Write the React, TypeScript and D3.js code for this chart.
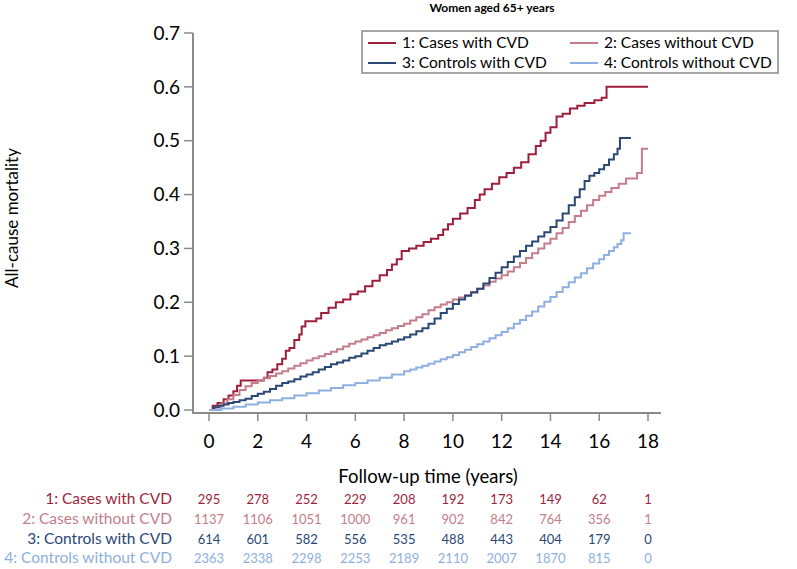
import React from "react";
import * as d3 from "d3";

const title = "Women aged 65+ years";
const yTicks = [0, 0.1, 0.2, 0.3, 0.4, 0.5, 0.6, 0.7];
const xTicks = [0, 2, 4, 6, 8, 10, 12, 14, 16, 18];
const groupNames = ["1: Cases with CVD", "2: Cases without CVD", "3: Controls with CVD", "4: Controls without CVD"];
const groupColors = ["#9e1f3c", "#c47d8a", "#2a4876", "#8db0e0"];

// [time, cumulative mortality]
const s1: [number, number][] = [
  [0, 0], [0.15, 0.008], [0.35, 0.013], [0.6, 0.02], [0.8, 0.027], [1.0, 0.035], [1.15, 0.045], [1.3, 0.055],
  [2.25, 0.06], [2.4, 0.07], [2.6, 0.075], [2.8, 0.085], [3.0, 0.095], [3.15, 0.11], [3.3, 0.115], [3.5, 0.13],
  [3.7, 0.14], [3.8, 0.155], [3.95, 0.165], [4.4, 0.17], [4.6, 0.18], [4.9, 0.19], [5.2, 0.2], [5.5, 0.205],
  [5.8, 0.215], [6.1, 0.22], [6.4, 0.23], [6.7, 0.24], [7.0, 0.25], [7.3, 0.26], [7.5, 0.27], [7.7, 0.28],
  [7.9, 0.295], [8.2, 0.3], [8.5, 0.305], [8.8, 0.312], [9.1, 0.318], [9.4, 0.325], [9.6, 0.335], [9.8, 0.345],
  [10.0, 0.355], [10.3, 0.365], [10.6, 0.375], [10.9, 0.39], [11.1, 0.4], [11.3, 0.41], [11.6, 0.42], [11.9, 0.432],
  [12.2, 0.44], [12.5, 0.45], [12.8, 0.46], [13.1, 0.475], [13.4, 0.49], [13.6, 0.5], [13.8, 0.515], [14.0, 0.525],
  [14.25, 0.545], [14.5, 0.55], [14.8, 0.56], [15.1, 0.565], [15.4, 0.57], [15.8, 0.575], [16.1, 0.58], [16.3, 0.6],
  [18.0, 0.6],
];
const s2: [number, number][] = [
  [0, 0], [0.25, 0.005], [0.5, 0.012], [0.75, 0.02], [1.0, 0.028], [1.25, 0.037], [1.5, 0.044], [1.75, 0.05],
  [2.0, 0.055], [2.25, 0.059], [2.5, 0.063], [2.75, 0.068], [3.0, 0.072], [3.25, 0.077], [3.5, 0.082], [3.75, 0.087],
  [4.0, 0.092], [4.25, 0.096], [4.5, 0.1], [4.75, 0.104], [5.0, 0.108], [5.25, 0.113], [5.5, 0.118], [5.75, 0.123],
  [6.0, 0.127], [6.25, 0.131], [6.5, 0.135], [6.75, 0.139], [7.0, 0.143], [7.25, 0.148], [7.5, 0.152], [7.75, 0.156],
  [8.0, 0.16], [8.25, 0.166], [8.5, 0.172], [8.75, 0.178], [9.0, 0.185], [9.25, 0.191], [9.5, 0.196], [9.75, 0.2],
  [10.0, 0.205], [10.25, 0.209], [10.5, 0.213], [10.75, 0.219], [11.0, 0.225], [11.25, 0.231], [11.5, 0.238], [11.75, 0.244],
  [12.0, 0.25], [12.25, 0.257], [12.5, 0.265], [12.75, 0.273], [13.0, 0.282], [13.25, 0.291], [13.5, 0.3], [13.75, 0.309],
  [14.0, 0.318], [14.25, 0.328], [14.5, 0.338], [14.75, 0.349], [15.0, 0.36], [15.25, 0.37], [15.5, 0.38], [15.75, 0.39],
  [16.0, 0.398], [16.25, 0.405], [16.5, 0.412], [16.8, 0.42], [17.1, 0.43], [17.55, 0.44], [17.75, 0.485], [18.0, 0.485],
];
const s3: [number, number][] = [
  [0, 0], [0.2, 0.005], [0.4, 0.008], [0.6, 0.01], [0.8, 0.013], [1.0, 0.015], [1.25, 0.018], [1.5, 0.021],
  [1.75, 0.026], [2.0, 0.03], [2.25, 0.034], [2.5, 0.039], [2.75, 0.045], [3.0, 0.05], [3.25, 0.053], [3.5, 0.057],
  [3.75, 0.062], [4.0, 0.066], [4.25, 0.07], [4.5, 0.075], [4.75, 0.08], [5.0, 0.085], [5.25, 0.088], [5.5, 0.092],
  [5.75, 0.097], [6.0, 0.1], [6.25, 0.105], [6.5, 0.11], [6.75, 0.115], [7.0, 0.12], [7.25, 0.123], [7.5, 0.127],
  [7.75, 0.131], [8.0, 0.135], [8.25, 0.14], [8.5, 0.146], [8.75, 0.152], [9.0, 0.16], [9.25, 0.17], [9.5, 0.18],
  [9.75, 0.188], [10.0, 0.197], [10.25, 0.205], [10.5, 0.212], [10.75, 0.218], [11.0, 0.225], [11.25, 0.235], [11.5, 0.245],
  [11.75, 0.255], [12.0, 0.265], [12.25, 0.275], [12.5, 0.285], [12.75, 0.295], [13.0, 0.305], [13.25, 0.313], [13.5, 0.322],
  [13.75, 0.33], [14.0, 0.34], [14.25, 0.352], [14.5, 0.365], [14.75, 0.38], [15.0, 0.395], [15.2, 0.41], [15.4, 0.425],
  [15.6, 0.435], [15.8, 0.44], [16.0, 0.447], [16.2, 0.455], [16.4, 0.465], [16.6, 0.475], [16.75, 0.485], [16.85, 0.505],
  [17.3, 0.505],
];
const s4: [number, number][] = [
  [0, 0], [0.5, 0.003], [1.0, 0.006], [1.5, 0.01], [2.0, 0.014], [2.5, 0.018], [3.0, 0.022], [3.5, 0.027],
  [4.0, 0.031], [4.5, 0.036], [5.0, 0.041], [5.5, 0.046], [6.0, 0.05], [6.5, 0.055], [7.0, 0.06], [7.5, 0.066],
  [8.0, 0.072], [8.25, 0.075], [8.5, 0.079], [8.75, 0.082], [9.0, 0.086], [9.25, 0.09], [9.5, 0.094], [9.75, 0.098],
  [10.0, 0.102], [10.25, 0.107], [10.5, 0.112], [10.75, 0.117], [11.0, 0.122], [11.25, 0.127], [11.5, 0.133], [11.75, 0.139],
  [12.0, 0.145], [12.25, 0.152], [12.5, 0.16], [12.75, 0.167], [13.0, 0.175], [13.25, 0.183], [13.5, 0.192], [13.75, 0.201],
  [14.0, 0.21], [14.25, 0.219], [14.5, 0.228], [14.75, 0.237], [15.0, 0.246], [15.25, 0.254], [15.5, 0.263], [15.75, 0.272],
  [16.0, 0.28], [16.2, 0.288], [16.4, 0.295], [16.6, 0.302], [16.75, 0.308], [16.9, 0.315], [17.0, 0.328], [17.3, 0.328],
];
const series = [s1, s2, s3, s4];

const riskTimes = [0, 2, 4, 6, 8, 10, 12, 14, 16, 18];
const risk1 = [295, 278, 252, 229, 208, 192, 173, 149, 62, 1];
const risk2 = [1137, 1106, 1051, 1000, 961, 902, 842, 764, 356, 1];
const risk3 = [614, 601, 582, 556, 535, 488, 443, 404, 179, 0];
const risk4 = [2363, 2338, 2298, 2253, 2189, 2110, 2007, 1870, 815, 0];
const riskRows = [risk1, risk2, risk3, risk4];

const FONT = "Lato, 'Open Sans', sans-serif";
const AXIS = "#8a8a8a";

export default function App() {
  const W = 797, H = 569;
  const x = d3.scaleLinear().domain([0, 18]).range([209, 648]);
  const y = d3.scaleLinear().domain([0, 0.7]).range([410, 33]);
  const axisY = 413;
  const axisX = 193;
  const line = d3
    .line<[number, number]>()
    .x((d) => x(d[0]))
    .y((d) => y(d[1]))
    .curve(d3.curveStepAfter);

  const rowY = [499, 519, 539, 558];

  return (
    <svg width={W} height={H} style={{ position: "absolute", left: 0, top: 0, background: "#fff" }} fontFamily={FONT}>
      <text x={492} y={12} textAnchor="middle" fontSize={12} fontWeight="bold" fill="#000">{title}</text>

      {/* y axis */}
      <line x1={axisX} x2={axisX} y1={y(0.7)} y2={axisY} stroke={AXIS} strokeWidth={2} />
      {yTicks.map((t) => (
        <g key={t}>
          <line x1={axisX - 9} x2={axisX} y1={y(t)} y2={y(t)} stroke={AXIS} strokeWidth={1.5} />
          <text x={axisX - 13} y={y(t)} dy="0.35em" textAnchor="end" fontSize={19} fill="#000">{t.toFixed(1)}</text>
        </g>
      ))}
      <text transform={`translate(18,218) rotate(-90)`} textAnchor="middle" fontSize={17} fill="#000">All-cause mortality</text>

      {/* x axis */}
      <line x1={axisX - 1} x2={661} y1={axisY} y2={axisY} stroke={AXIS} strokeWidth={2} />
      {xTicks.map((t) => (
        <g key={t}>
          <line x1={x(t)} x2={x(t)} y1={axisY} y2={axisY + 8} stroke={AXIS} strokeWidth={1.5} />
          <text x={x(t)} y={448} textAnchor="middle" fontSize={19} fill="#000">{t}</text>
        </g>
      ))}
      <text x={428} y={483} textAnchor="middle" fontSize={18.5} fill="#000">Follow-up time (years)</text>

      {/* curves */}
      {series.map((s, i) => (
        <path key={i} d={line(s) || ""} fill="none" stroke={groupColors[i]} strokeWidth={2} />
      ))}

      {/* legend */}
      <rect x={362} y={31} width={416} height={42} fill="#fff" stroke={AXIS} strokeWidth={1.5} />
      {groupNames.map((n, i) => {
        const col = i % 2;
        const row = Math.floor(i / 2);
        const lx = col === 0 ? 368 : 570;
        const ly = row === 0 ? 43 : 63;
        return (
          <g key={n}>
            <line x1={lx} x2={lx + 28} y1={ly} y2={ly} stroke={groupColors[i]} strokeWidth={2} />
            <text x={lx + 34} y={ly} dy="0.35em" fontSize={15.5} fill="#000">{n}</text>
          </g>
        );
      })}

      {/* risk table */}
      {riskRows.map((r, i) => (
        <g key={i}>
          <text x={172} y={rowY[i]} dy="0.35em" textAnchor="end" fontSize={15.5} fill={groupColors[i]}>{groupNames[i]}</text>
          {r.map((v, j) => (
            <text key={j} x={x(riskTimes[j])} y={rowY[i]} dy="0.35em" textAnchor="middle" fontSize={13} fill={groupColors[i]}>{v}</text>
          ))}
        </g>
      ))}
    </svg>
  );
}
